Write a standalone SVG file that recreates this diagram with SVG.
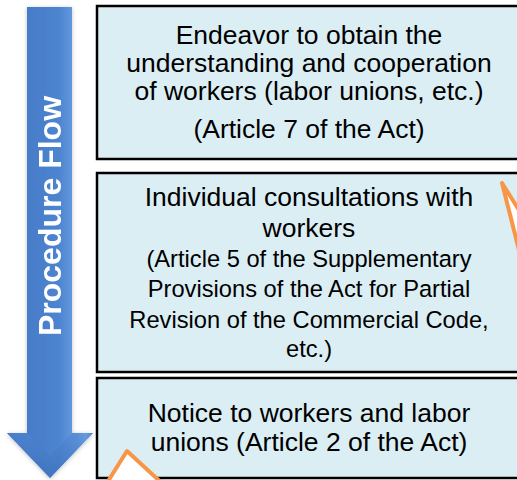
<svg xmlns="http://www.w3.org/2000/svg" width="517" height="480" viewBox="0 0 517 480">
  <defs>
    <linearGradient id="shaftGrad" x1="0" y1="0" x2="1" y2="0">
      <stop offset="0" stop-color="#3566b0"/>
      <stop offset="0.12" stop-color="#4479c6"/>
      <stop offset="0.6" stop-color="#4d84d0"/>
      <stop offset="0.82" stop-color="#6a9fe2"/>
      <stop offset="0.92" stop-color="#8bbcf2"/>
      <stop offset="1" stop-color="#4a7fc8"/>
    </linearGradient>
    <linearGradient id="headGrad" x1="0" y1="0" x2="0" y2="1">
      <stop offset="0" stop-color="#4f86d2"/>
      <stop offset="1" stop-color="#3a6cb6"/>
    </linearGradient>
    <filter id="soft" x="-20%" y="-5%" width="140%" height="110%">
      <feGaussianBlur in="SourceAlpha" stdDeviation="2"/>
      <feOffset dx="0" dy="1" result="b"/>
      <feFlood flood-color="#000" flood-opacity="0.25"/>
      <feComposite in2="b" operator="in"/>
      <feMerge><feMergeNode/><feMergeNode in="SourceGraphic"/></feMerge>
    </filter>
  </defs>
  <style>
    .box { fill: #dbeef4; stroke: #000; stroke-width: 2.5; }
    .txt { font-family: "Liberation Sans", Arial, sans-serif; font-size: 26.5px; fill: #000; text-anchor: middle; }
    .small { font-size: 23.7px; }
    .wedge { fill: #fff; stroke: #f79646; stroke-width: 4; stroke-linejoin: round; }
    .flow { font-family: "Liberation Sans", Arial, sans-serif; font-size: 32px; font-weight: bold; fill: #fff; text-anchor: middle; }
  </style>

  <!-- Procedure flow arrow -->
  <g id="flow-arrow" filter="url(#soft)">
    <path d="M27,7 H72 V433 H93 L50,478 L7,433 H27 Z" fill="url(#shaftGrad)"/>
    <path d="M27,433 H7 L50,478 L93,433 H72 L50,456 Z" fill="url(#headGrad)" opacity="0.6"/>
    <text class="flow" transform="translate(61,216) rotate(-90)">Procedure Flow</text>
  </g>

  <!-- Step 1 -->
  <g id="step-understanding">
    <rect class="box" x="97" y="6" width="440" height="153"/>
    <text class="txt" x="309" y="44">Endeavor to obtain the</text>
    <text class="txt" x="309" y="72">understanding and cooperation</text>
    <text class="txt" x="309" y="100">of workers (labor unions, etc.)</text>
    <text class="txt" x="309" y="138">(Article 7 of the Act)</text>
  </g>

  <!-- Step 2 -->
  <g id="step-consultations">
    <rect class="box" x="97" y="173" width="440" height="199"/>
    <text class="txt" x="309" y="206">Individual consultations with</text>
    <text class="txt" x="309" y="237">workers</text>
    <text class="txt small" x="309" y="267">(Article 5 of the Supplementary</text>
    <text class="txt small" x="309" y="297">Provisions of the Act for Partial</text>
    <text class="txt small" x="309" y="328">Revision of the Commercial Code,</text>
    <text class="txt small" x="309" y="357">etc.)</text>
    <polygon class="wedge" points="502,183 522,262 522,215"/>
  </g>

  <!-- Step 3 -->
  <g id="step-notice">
    <rect class="box" x="97" y="378" width="440" height="100"/>
    <text class="txt" x="309" y="422">Notice to workers and labor</text>
    <text class="txt" x="309" y="451">unions (Article 2 of the Act)</text>
    <polygon class="wedge" points="127,451 105,486 165,486"/>
  </g>
</svg>
